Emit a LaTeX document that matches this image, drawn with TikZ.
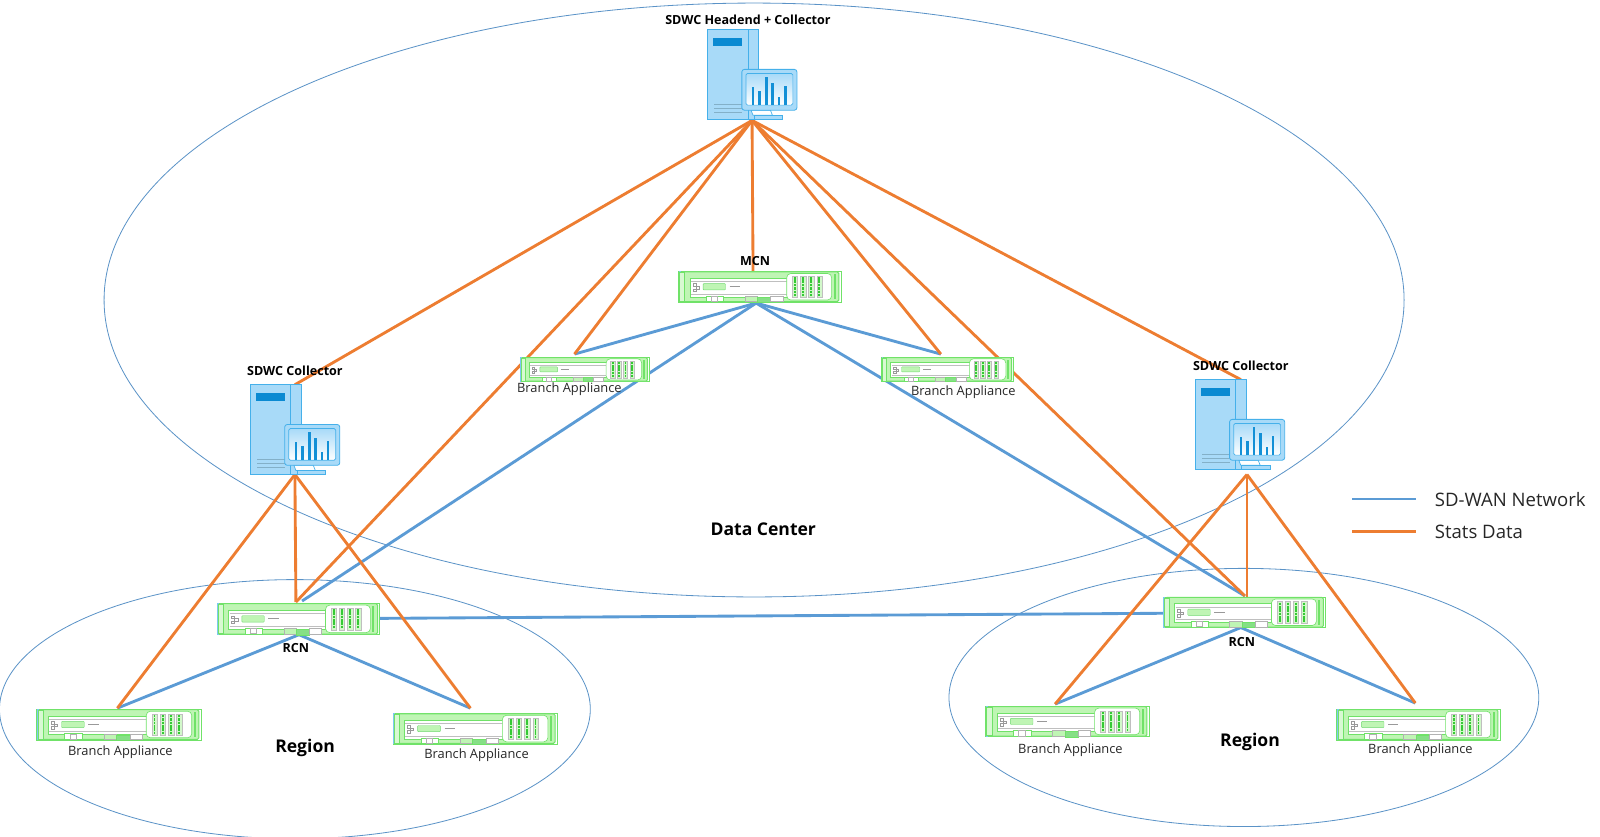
\documentclass[tikz,border=0pt]{standalone}
\usepackage{fontspec}
\setmainfont{Open Sans}
\definecolor{ellblue}{HTML}{5B93C7}
\definecolor{netblue}{HTML}{5B9BD5}
\definecolor{statorange}{HTML}{ED7D31}
\definecolor{srvfill}{HTML}{A8DAF8}
\definecolor{srvline}{HTML}{45B0EA}
\definecolor{srvdark}{HTML}{0A8AD2}
\definecolor{appfill}{HTML}{BFF5B4}
\definecolor{appline}{HTML}{70E268}
\definecolor{appdark}{HTML}{35C935}
\tikzset{
  zone/.style={draw=ellblue,line width=.8pt},
  netlink/.style={draw=netblue,line width=2.8pt},
  statlink/.style={draw=statorange,line width=2.8pt},
  lbl/.style={font=\fontsize{12.6}{14}\selectfont,text=black!85,inner sep=0pt},
  blbl/.style={font=\fontsize{12.3}{14}\selectfont\bfseries,text=black,inner sep=0pt},
  zonelbl/.style={font=\fontsize{17.2}{20}\selectfont\bfseries,text=black,inner sep=0pt},
  leglbl/.style={font=\fontsize{18.2}{21}\selectfont,text=black!85,inner sep=0pt,anchor=west},
  appbox/.style={draw=none,inner sep=0pt,minimum width=#1},
  srvbox/.style={draw=none,inner sep=0pt,minimum width=88pt,minimum height=88pt},
}
% \appl{name}{left}{top}{width}{height}
\newcommand{\appl}[5]{%
  \node[appbox=#4 pt,minimum height=#5 pt] (#1) at ({#2+#4/2},{#3+#5/2}) {};
  \begin{scope}[shift={(#2,#3)},xscale=#4/159,yscale=#5/30]
    \fill[white,draw=appline,line width=.5pt] (0,0) rectangle (159,30);
    \fill[srvline!70] (0,0) rectangle (2,30);
    \fill[appfill,draw=appline,line width=1pt,rounded corners=1.5pt] (2,.5) rectangle (157,29.5);
    \fill[appfill!60!white,draw=appline,line width=.5pt] (1,1) rectangle (6,29);
    \fill[white,draw=appline,line width=.5pt] (11,6.5) rectangle (108,25);
    \draw[black!25,line width=.4pt] (12,10) -- (107,10) (12,22) -- (107,22);
    \fill[appfill,draw=appdark!70,line width=.4pt,rounded corners=.7pt] (24,12) rectangle (46,18);
    \draw[black!40,line width=1pt] (50,15) -- (60,15);
    \draw[black!40,line width=.4pt] (14,12) rectangle (17,14.5) (17,14.5) rectangle (20,17) (14,17) rectangle (17,19.5);
    \fill[white,draw=appline,line width=.4pt] (27,24) rectangle (44,29.5);
    \fill[white,draw=black!30,line width=.3pt] (32,24) rectangle (38,29);
    \fill[appfill,draw=black!30,line width=.3pt] (65,24) rectangle (77,29.5);
    \fill[appdark!60,draw=appline,line width=.3pt] (77,25) rectangle (90,30);
    \fill[white,draw=black!30,line width=.3pt] (90,24) rectangle (102,29.5);
    \fill[white,draw=appline,line width=.6pt,rounded corners=4pt] (106,2) rectangle (150,28);
    \foreach \gx in {114,122,130,138}{
      \fill[appfill!70!white,draw=black!25,line width=.3pt] ({\gx-2.6},4.5) rectangle ({\gx+2.6},25.5);
      \draw[appdark,line width=1.8pt,dash pattern=on 2.6pt off .7pt] (\gx,5.5) -- (\gx,24.5);
    }
    \fill[appline] (152,3) rectangle (154,27);
  \end{scope}%
}
% \srv{name}{left}{top}
\newcommand{\srv}[3]{%
  \node[srvbox] (#1) at ({#2+44},{#3+44}) {};
  \begin{scope}[shift={(#2,#3)}]
    \fill[srvfill,draw=srvline,line width=.7pt] (0,0) rectangle (50,88);
    \draw[srvline,line width=.7pt] (40,0) -- (40,88);
    \fill[srvdark] (6,8) rectangle (34,16);
    \draw[srvline!70!black!60,line width=1.1pt] (7,73) -- (34,73) (7,77) -- (34,77) (7,81) -- (34,81);
    \fill[white,draw=srvline,line width=.7pt] (43,79) -- (62,79) -- (64,84) -- (45,84) -- cycle;
    \fill[srvfill,draw=srvline,line width=.7pt] (46,84) rectangle (74,88);
    \fill[srvfill,draw=srvline,line width=.8pt,rounded corners=2.5pt] (34,39) rectangle (88,79);
    \shade[top color=srvfill,bottom color=white,draw=srvline,line width=.7pt,rounded corners=1.5pt] (38,43) rectangle (84,74);
    \draw[srvdark!85!srvline,line width=2.6pt]
      (45,73.5) -- (45,56.5) (51.5,73.5) -- (51.5,60) (58,73.5) -- (58,46.5)
      (64,73.5) -- (64,52.5) (70.5,73.5) -- (70.5,66) (76.5,73.5) -- (76.5,55);
  \end{scope}%
}
\begin{document}
\begin{tikzpicture}[x=1pt,y=-1pt]
\useasboundingbox (0,0) rectangle (1568,820);
\clip (0,0) rectangle (1568,820);
% zones
\draw[zone] (739,294) ellipse [x radius=637pt,y radius=291pt];
\draw[zone] (289,695) ellipse [x radius=289.5pt,y radius=127pt];
\draw[zone] (1219,683.5) ellipse [x radius=289pt,y radius=126.5pt];
% connector end points
\coordinate (hub) at (737,118);
\coordinate (colLtop) at (289,377);
\coordinate (colRtop) at (1216,372);
\coordinate (colLbot) at (289,465);
\coordinate (colRbot) at (1222,465);
\coordinate (mcnTop) at (738,266);
\coordinate (mcnBot) at (741,297);
\coordinate (dcA) at (563,347);
\coordinate (dcB) at (922,347);
\coordinate (rcnLtop) at (290,590);
\coordinate (rcnLtopB) at (296,589);
\coordinate (rcnRtop) at (1220,584);
\coordinate (rcnRtopC) at (1222,585);
\coordinate (rcnLbot) at (293,622);
\coordinate (rcnRbot) at (1216,615);
\coordinate (brA) at (115,694);
\coordinate (brB) at (461,694);
\coordinate (brC) at (1034,690);
\coordinate (brD) at (1387,689);
\coordinate (rcnLside) at (372,606);
\coordinate (rcnRside) at (1140,601);
% network links
\draw[netlink] (mcnBot) -- (dcA);
\draw[netlink] (mcnBot) -- (dcB);
\draw[netlink] (mcnBot) -- (rcnLtopB);
\draw[netlink] (mcnBot) -- (rcnRtop);
\draw[netlink] (rcnLbot) -- (brA);
\draw[netlink] (rcnLbot) -- (brB);
\draw[netlink] (rcnRbot) -- (brC);
\draw[netlink] (rcnRbot) -- (brD);
\draw[netlink] (rcnLside) -- (rcnRside);
% stats links
\draw[statlink] (hub) -- (colLtop);
\draw[statlink] (hub) -- (rcnLtop);
\draw[statlink] (hub) -- (dcA);
\draw[statlink] (hub) -- (mcnTop);
\draw[statlink] (hub) -- (dcB);
\draw[statlink] (hub) -- (rcnRtop);
\draw[statlink] (hub) -- (colRtop);
\draw[statlink] (colLbot) -- (brA);
\draw[statlink] (colLbot) -- (rcnLtop);
\draw[statlink] (colLbot) -- (brB);
\draw[statlink] (colRbot) -- (brC);
\draw[statlink] (colRbot) -- (rcnRtopC);
\draw[statlink] (colRbot) -- (brD);
% equipment
\srv{head}{693}{29}
\srv{colL}{245}{377}
\srv{colR}{1171}{372}
\appl{mcn}{665}{266}{159}{30}
\appl{rcnL}{213}{591}{159}{31}
\appl{rcnR}{1140}{585}{159}{30}
\appl{dcbrA}{510}{350}{126}{24}
\appl{dcbrB}{864}{350}{129}{24}
\appl{bA}{36}{695}{161}{30}
\appl{bB}{385}{699}{161}{30}
\appl{bC}{966}{692}{160}{30}
\appl{bD}{1310}{695}{160}{30}
% labels
\node[blbl] (tHead) at (733,19.5) {SDWC Headend + Collector};
\node[blbl] (tMcn) at (740,255.5) {MCN};
\node[blbl] (tColL) at (289,363.5) {SDWC Collector};
\node[blbl] (tColR) at (1216,358.5) {SDWC Collector};
\node[blbl] (tRcnL) at (290,635.5) {RCN};
\node[blbl] (tRcnR) at (1217,629.5) {RCN};
\node[lbl] (lA) at (558,381.5) {Branch Appliance};
\node[lbl] (lB) at (944,384.5) {Branch Appliance};
\node[lbl] (lC) at (118,737.5) {Branch Appliance};
\node[lbl] (lD) at (467,740.5) {Branch Appliance};
\node[lbl] (lE) at (1049,735.5) {Branch Appliance};
\node[lbl] (lF) at (1392,735.5) {Branch Appliance};
\node[zonelbl] (zDC) at (748,518.5) {Data Center};
\node[zonelbl] (zL) at (299,732.5) {Region};
\node[zonelbl] (zR) at (1225,727.5) {Region};
% legend
\coordinate (legA1) at (1325,489);
\coordinate (legA2) at (1388,489);
\coordinate (legB1) at (1325,521);
\coordinate (legB2) at (1388,521);
\draw[netlink] (legA1) -- (legA2);
\draw[statlink] (legB1) -- (legB2);
\node[leglbl] (legA) at (1406,490) {SD-WAN Network};
\node[leglbl] (legB) at (1406,521.5) {Stats Data};
\end{tikzpicture}
\end{document}
